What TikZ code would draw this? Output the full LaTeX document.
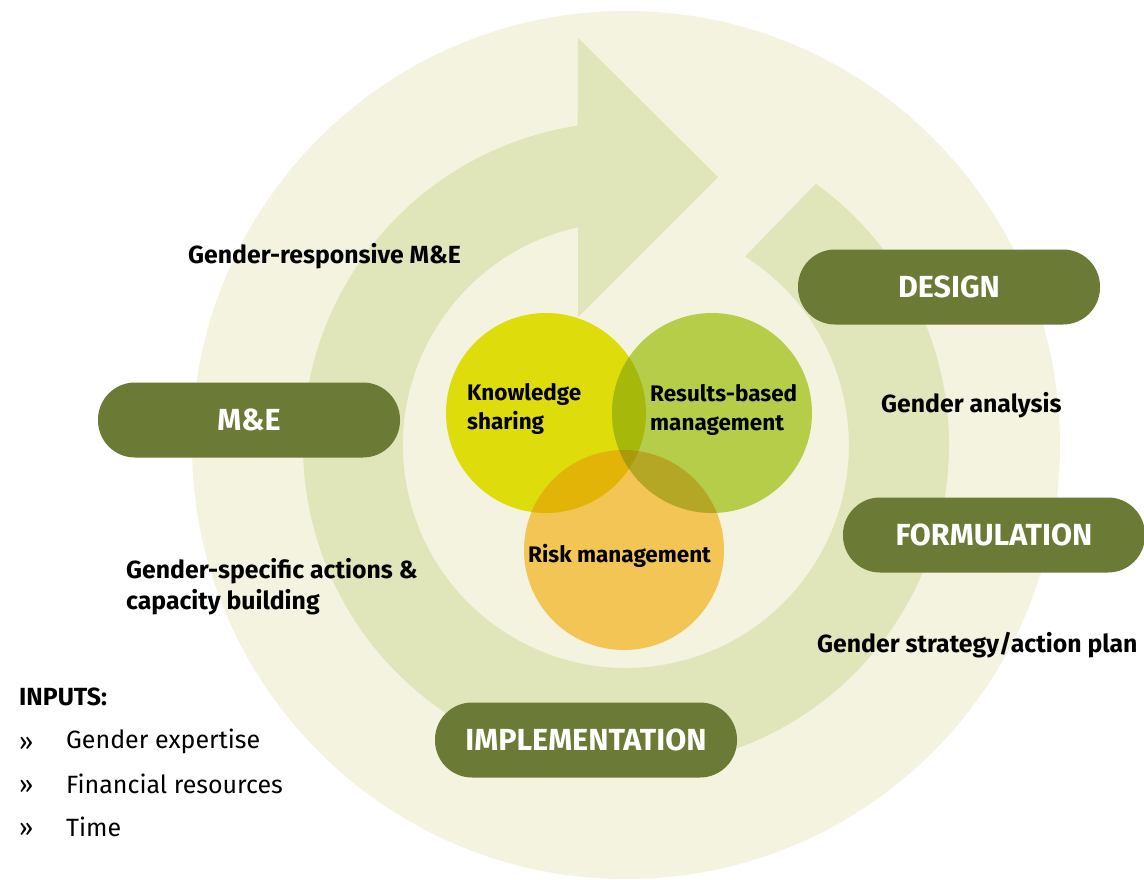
\documentclass[tikz,border=0pt]{standalone}
\usepackage{fontspec}
\setmainfont{Fira Sans}
\usetikzlibrary{calc}
\definecolor{bigc}{HTML}{F3F3E0}
\definecolor{ringc}{HTML}{E1E5BA}
\definecolor{pillc}{HTML}{6B7A35}
\definecolor{kyel}{HTML}{DEDC0A}
\definecolor{rgreen}{HTML}{B6CD4A}
\definecolor{rorange}{HTML}{F2C555}
\definecolor{krc}{HTML}{A6B80A}
\definecolor{kic}{HTML}{E3B408}
\definecolor{ric}{HTML}{B5A726}
\definecolor{tric}{HTML}{A99A0B}
\begin{document}
\begin{tikzpicture}[x=1pt,y=-1pt,
  pill/.style={fill=pillc, rounded corners=37pt, minimum width=302pt, minimum height=75pt,
    text=white, font=\fontsize{30.5}{32}\selectfont\bfseries, inner sep=0pt},
  lab/.style={anchor=west, font=\fontsize{24.8}{31}\selectfont\bfseries, inner sep=0pt, align=left},
  clab/.style={anchor=west, font=\fontsize{22.5}{28.5}\selectfont\bfseries, inner sep=0pt, align=left},
  inp/.style={anchor=west, font=\fontsize{25}{28}\selectfont, inner sep=0pt}]
\useasboundingbox (0,0) rectangle (1144,879);
\fill[white] (0,0) rectangle (1144,879);
\coordinate (C) at (626,445);
\begin{scope}
\clip (0,0) rectangle (1144,879);
\fill[bigc] (C) circle[radius=434];
\end{scope}
% ring arrow
\fill[ringc] ($(C)+(-54:323)$) arc[start angle=-54, end angle=261.4, radius=323]
  -- (578,38) -- (718,177) -- (578,317) -- (578,227.2)
  arc[start angle=257.6, end angle=-57.7, radius=223] -- cycle;
% circles
\coordinate (K) at (546,413);
\coordinate (R) at (712,413);
\coordinate (I) at (624,550);
\fill[kyel] (K) circle[radius=100];
\fill[rgreen] (R) circle[radius=100];
\fill[rorange] (I) circle[radius=100];
\begin{scope}
\clip (K) circle[radius=100];
\fill[krc] (R) circle[radius=100];
\fill[kic] (I) circle[radius=100];
\end{scope}
\begin{scope}
\clip (R) circle[radius=100];
\clip (I) circle[radius=100];
\fill[ric] (K) ++(-200,-200) rectangle ++(400,400);
\end{scope}
\begin{scope}
\clip (K) circle[radius=100];
\clip (R) circle[radius=100];
\fill[tric] (I) circle[radius=100];
\end{scope}
\node[clab] (ks) at (467,409) {Knowledge\\sharing};
\node[clab] (rb) at (650,410) {Results-based\\management};
\node[clab] (rm) at (528,556) {Risk management};
% pills
\node[pill] (design) at (949,287) {DESIGN};
\node[pill] (me) at (249,420) {M\&E};
\node[pill] (form) at (994,535) {FORMULATION};
\node[pill] (impl) at (586,740) {IMPLEMENTATION};
% labels
\node[lab] (grme) at (188,256) {Gender-responsive M\&E};
\node[lab] (ga) at (881,405) {Gender analysis};
\node[lab] (gsa) at (126,587) {Gender-specific actions \&\\capacity building};
\node[lab] (gs) at (817,645) {Gender strategy/action plan};
% inputs
\node[lab] (inputs) at (19,697) {INPUTS:};
\node[inp] (b1) at (19,744) {\raisebox{-4pt}{»}};
\node[inp] (i1) at (66,741) {Gender expertise};
\node[inp] (b2) at (19,787) {\raisebox{-4pt}{»}};
\node[inp] (i2) at (66,784) {Financial resources};
\node[inp] (b3) at (19,830) {\raisebox{-4pt}{»}};
\node[inp] (i3) at (66,827) {Time};
\end{tikzpicture}
\end{document}
